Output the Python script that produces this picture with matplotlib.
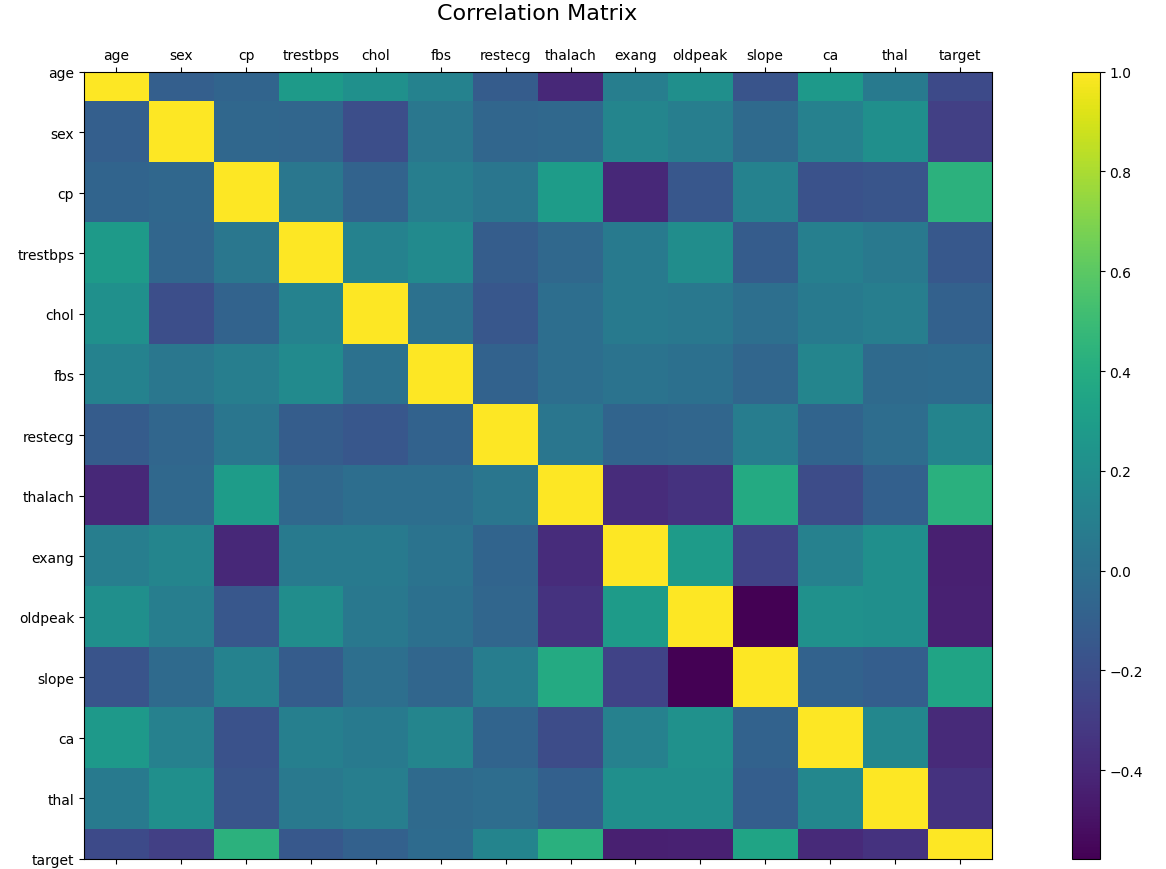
import numpy as np
import matplotlib
matplotlib.use("Agg")
import matplotlib.pyplot as plt

labels = ['age', 'sex', 'cp', 'trestbps', 'chol', 'fbs', 'restecg',
          'thalach', 'exang', 'oldpeak', 'slope', 'ca', 'thal', 'target']

# upper triangle of the correlation matrix, row by row (diagonal excluded)
upper = [
    [-0.098, -0.069, 0.279, 0.214, 0.121, -0.116, -0.399, 0.097, 0.210, -0.169, 0.276, 0.068, -0.225],
    [-0.049, -0.057, -0.198, 0.045, -0.058, -0.044, 0.142, 0.096, -0.031, 0.118, 0.210, -0.281],
    [0.048, -0.077, 0.094, 0.044, 0.296, -0.394, -0.149, 0.120, -0.181, -0.162, 0.434],
    [0.123, 0.178, -0.114, -0.047, 0.068, 0.193, -0.121, 0.101, 0.062, -0.145],
    [0.013, -0.151, -0.010, 0.067, 0.054, -0.004, 0.071, 0.099, -0.085],
    [-0.084, -0.009, 0.026, 0.006, -0.060, 0.138, -0.032, -0.028],
    [0.044, -0.071, -0.059, 0.093, -0.072, -0.012, 0.137],
    [-0.379, -0.344, 0.387, -0.213, -0.096, 0.422],
    [0.288, -0.258, 0.116, 0.207, -0.437],
    [-0.578, 0.223, 0.210, -0.431],
    [-0.080, -0.105, 0.346],
    [0.152, -0.392],
    [-0.344],
]

n = len(labels)
corr = np.eye(n)
for i, row in enumerate(upper):
    for k, v in enumerate(row):
        j = i + 1 + k
        corr[i, j] = v
        corr[j, i] = v

fig = plt.figure(figsize=(11.66, 8.7), dpi=100)
ax = fig.add_axes([0.072, 0.0115, 0.779, 0.905])
cax = fig.add_axes([0.919, 0.0115, 0.024, 0.905])

im = ax.imshow(corr, cmap='viridis', aspect='auto', interpolation='nearest')
ax.set_xticks(range(n))
ax.set_xticklabels(labels, fontsize=10)
ax.set_yticks(range(n))
ax.set_yticklabels(labels, fontsize=10)
ax.xaxis.tick_top()
ax.tick_params(axis='x', top=True, bottom=True, labeltop=True, labelbottom=False)
# first and last rows are cut in half, as in the original
ax.set_ylim(n - 1, 0)

cb = fig.colorbar(im, cax=cax)
cb.set_ticks([-0.4, -0.2, 0.0, 0.2, 0.4, 0.6, 0.8, 1.0])
cb.ax.tick_params(labelsize=10)

fig.suptitle('Correlation Matrix', fontsize=16, x=0.461, y=0.995)

plt.savefig('out.png', dpi=100)
